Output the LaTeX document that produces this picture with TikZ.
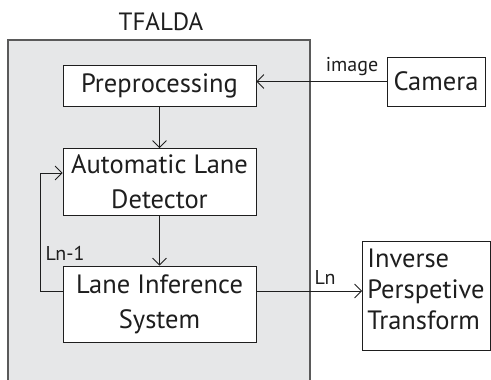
\documentclass[tikz,border=0pt]{standalone}
\usepackage{fontspec}
\setmainfont{PT Sans}
\usetikzlibrary{arrows.meta}
\definecolor{framefill}{RGB}{230,231,232}
\definecolor{frameline}{RGB}{90,90,90}
\definecolor{ink}{RGB}{30,30,30}
\tikzset{
  block/.style={draw=ink, fill=white, line width=0.8pt, inner sep=0pt,
    align=center, text=ink, font=\fontsize{26.5}{35}\selectfont},
  blocktext/.style={text=ink, inner sep=0pt, align=left,
    font=\fontsize{26.5}{31}\selectfont},
  tag/.style={text=ink, inner sep=0pt, font=\fontsize{20}{22}\selectfont},
  arr/.style={draw=ink, line width=0.8pt,
    -{Straight Barb[length=7pt,width=14pt,line width=0.8pt]}},
}
\begin{document}
\begin{tikzpicture}[x=1pt,y=-1pt]
\useasboundingbox (0,0) rectangle (491,380);
\clip (0,0) rectangle (491,380);
% enclosing system frame
\filldraw[fill=framefill, draw=frameline, line width=1.2pt] (8,40) rectangle (310,400);
\node[text=ink, inner sep=0pt, font=\fontsize{25}{27}\selectfont] (title) at (161,22) {TFALDA};
% processing blocks
\node[block, minimum width=193pt, minimum height=41pt] (pre) at (159.5,85.5) {Preprocessing};
\node[block, minimum width=193pt, minimum height=67pt] (ald) at (159.5,182) {Automatic Lane\\Detector};
\node[block, minimum width=193pt, minimum height=76pt] (lis) at (159.5,304) {Lane Inference\\System};
% external blocks
\node[block, minimum width=98pt, minimum height=49pt] (cam) at (436,81.5) {Camera};
\node[block, minimum width=128pt, minimum height=109pt] (ipt) at (426.5,295.5) {};
\node[blocktext] (ipttext) at (426,289) {Inverse\\Perspetive\\Transform};
% connectors
\draw[arr] (cam.west) -- (cam.west -| pre.east);
\draw[arr] (pre.south) -- (ald.north);
\draw[arr] (ald.south) -- (lis.north);
\coordinate (fb) at (40,173);
\draw[arr] ([yshift=13pt]lis.west) -| (fb) -- (fb -| ald.west);
\draw[arr] ([yshift=13pt]lis.east) -- ([yshift=13pt]lis.east -| ipt.west);
% connector labels
\node[tag] (limg) at (352,67) {image};
\node[tag] (lfb) at (65,253) {Ln-1};
\node[tag] (lout) at (325,277) {Ln};
\end{tikzpicture}
\end{document}
